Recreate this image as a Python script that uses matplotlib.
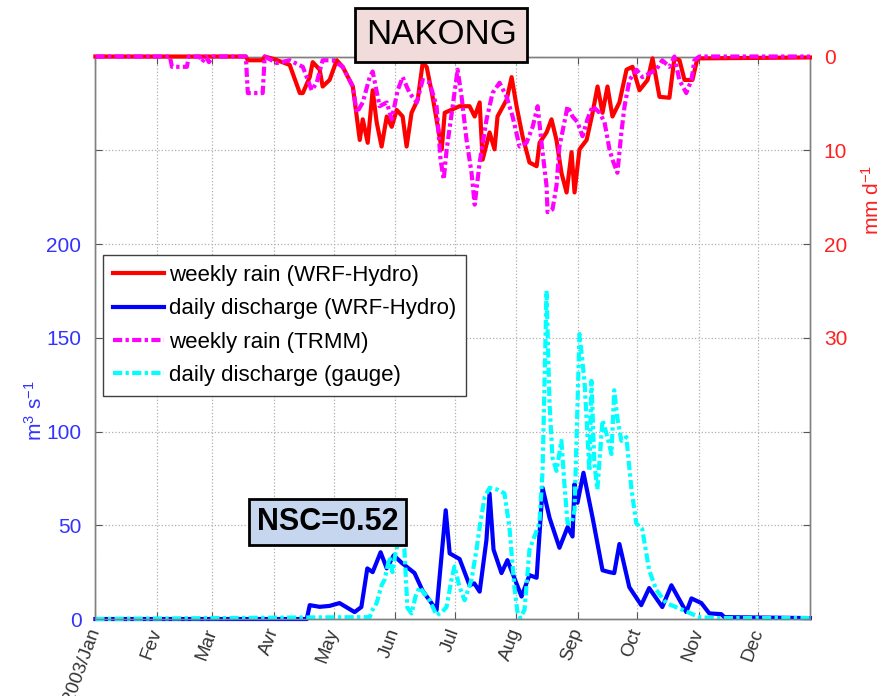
import matplotlib
matplotlib.use('Agg')
import matplotlib.pyplot as plt

plt.rcParams['font.family'] = ['Liberation Sans', 'DejaVu Sans']
plt.rcParams['mathtext.default'] = 'regular'

# days since 2003-01-01
month_days = [0, 31, 59, 90, 120, 151, 181, 212, 243, 273, 304, 334]
month_labels = ['2003/Jan', 'Fev', 'Mar', 'Avr', 'May', 'Jun', 'Jul', 'Aug',
                'Sep', 'Oct', 'Nov', 'Dec']

# daily discharge WRF-Hydro (m3/s)
q_wrf_day = [0, 106.5, 108, 113, 118, 123, 130.6, 134, 137, 139.7, 143.7, 146.8,
             150.3, 154.3, 160.8, 164.9, 171.9, 176.5, 178.5, 183.5, 188.5, 190.9,
             193.6, 197, 198.6, 200.6, 204.6, 207.6, 214.7, 218.7, 222.3, 225.3,
             228.8, 233.8, 237.9, 240.4, 241.4, 242.9, 245.9, 250.5, 255.5, 259,
             261.4, 264, 269, 275, 279, 285.6, 290.2, 297.7, 300.3, 305.3, 309.3,
             315.3, 316.9, 360]
q_wrf = [0, 0, 7.4, 6.5, 7, 8.5, 3.7, 6.4, 27, 25, 35.6, 27,
         34, 30, 24.5, 15, 4.8, 58, 35, 32, 18, 19,
         14.6, 42, 67, 37, 24.5, 31.4, 12, 23.4, 22, 70,
         54, 38, 49, 44, 72, 62, 78, 54, 26, 25,
         24.5, 40, 17, 7.4, 16.5, 6.4, 18, 3.7, 11, 8.5, 3,
         2.6, 1, 0.5]

# daily discharge gauge (m3/s)
q_obs_day = [0, 100, 138.2, 139.7, 141.7, 144.2, 145.7, 148.2, 149.7, 151.2, 153.2,
             155.7, 157.2, 159.3, 161.3, 163.3, 168.4, 171.9, 174.9, 176.9, 179.4,
             180.9, 183.5, 186, 189.5, 192, 193.6, 196.1, 198.6, 202.6, 206.1,
             208.6, 211.1, 212.6, 214.1, 216.2, 218.7, 221.2, 223.7, 225.3, 227.3,
             228.8, 230.3, 232.3, 234.8, 236.3, 237.9, 239.9, 241.4, 243.9, 246.4,
             248.9, 249.9, 251.4, 252.9, 255.5, 258, 260, 261.4, 263, 265, 267.5,
             270, 272.5, 275.5, 279, 282.6, 287.6, 295.6, 304.2, 312.7, 360]
q_obs = [0, 0.8, 1, 5, 8.5, 18, 21, 33, 25, 35, 44,
         37, 6, 3, 12, 17, 10, 2, 4, 6.4, 21,
         28, 17, 10, 21, 37, 49, 65, 70, 69, 67,
         49, 17, 4, 0.5, 5, 37, 44, 51, 79, 175,
         115, 86, 79, 95, 72, 51, 51, 58, 152, 127,
         79, 127, 83, 69, 106, 97, 88, 122, 107, 95, 97,
         70, 51, 48, 26, 15.5, 8.5, 5, 1, 0.5, 0.5]

# weekly rain WRF-Hydro (mm/d)
r_wrf_day = [0, 75.8, 76.8, 84.3, 85.3, 90.4, 97.9, 103, 104.5, 108, 109.5, 113,
             114.5, 118, 121.6, 124.6, 129.7, 133.2, 134.7, 137.2, 139.7, 141.7,
             144.2, 146.8, 149.3, 151.8, 154.8, 156.8, 159.3, 162.4, 164.9, 166.9,
             169.9, 174.5, 176, 183.5, 188.5, 191.1, 193.6, 195.1, 198.6, 201.1,
             202.6, 207.2, 209.7, 212.2, 215.2, 218.7, 222.3, 223.8, 227.3, 229.8,
             232.3, 234.8, 237.4, 239.9, 241.4, 243.9, 247.5, 250.5, 253, 255.5,
             258, 260.5, 264, 267.6, 270.6, 274.1, 278.2, 280.7, 284.2, 289.2,
             291.7, 294.3, 296.8, 300.8, 303.3, 360]
r_wrf = [0, 0, 0.4, 0.4, 0, 0.3, 0.9, 3.9, 3.9, 2.2, 0.6, 1.4,
         3.2, 2.5, 0.4, 1.1, 3.2, 8.9, 6.7, 9.2, 3.6, 7,
         9.6, 6.4, 7.5, 5.7, 6.4, 9.6, 6, 4.6, 0.7, 1.1,
         4.3, 9.9, 6, 5.3, 5.3, 6.4, 4.9, 11, 8.1, 9.9,
         6.4, 4.6, 2.2, 5.3, 8.5, 11.3, 11.7, 9.2, 8.1, 6.7,
         8.9, 12.4, 14.5, 10.2, 14.5, 9.9, 8.9, 6, 3.2, 6,
         3.2, 6.4, 4.9, 1.4, 1.1, 3.6, 2.5, 0.2, 4.3, 4.4,
         0.2, 0.4, 2.5, 2.5, 0.2, 0.1]

# weekly rain TRMM (mm/d)
r_trmm_day = [0, 37.5, 38.6, 46.1, 47.1, 52.6, 53.7, 55.7, 57.2, 59.2, 75.8, 76.8,
              84.3, 85.3, 91.4, 97.9, 104.5, 109, 111.5, 114.5, 119.5, 124.6, 129.7,
              131.7, 134.7, 138.2, 139.7, 143.2, 146.8, 149.3, 152.3, 154.8, 158.3,
              161.9, 164.9, 168.4, 171.9, 173.9, 175.5, 177, 180, 182.5, 184.5, 187,
              189.5, 191.1, 193.6, 197.1, 200.1, 203.6, 207.2, 210.2, 213.7, 217.2,
              220.3, 222.8, 225.3, 227.3, 227.8, 230.3, 232.3, 233.8, 236.3, 237.9,
              240.4, 242.9, 245.4, 247.9, 250.5, 254, 256.5, 259, 260.5, 263, 265,
              266.6, 269.1, 272.6, 275.6, 279.1, 282.6, 285.6, 289.2, 291.7, 294.2,
              297.7, 300.3, 301.8, 304.3, 360]
r_trmm = [0, 0, 1.1, 1.1, 0, 0, 0.6, 0, 0.6, 0, 0, 3.9,
          3.9, 0, 0.7, 0.4, 1.1, 3.6, 2.8, 0.4, 0.4, 1.1, 3.2,
          6, 4.9, 2.2, 1.6, 5.3, 4.9, 6.7, 3.6, 2.2, 3.9,
          4.9, 2.5, 2.8, 5.3, 11, 13.1, 9.9, 5.3, 1.4, 4.3, 8.9,
          12.4, 15.8, 11.3, 6.7, 3.9, 2.8, 4.3, 6.4, 9.6, 9.2,
          7.5, 5.3, 10.2, 13.8, 16.6, 16.3, 13.8, 9.6, 7, 5.3,
          6.4, 7, 8.5, 6.7, 5.3, 6, 7, 9.9, 11, 12.4, 8.1,
          5.3, 2.5, 1.4, 2.2, 1.8, 1.4, 0.4, 1.1, 0, 2.5,
          3.9, 2.5, 0.4, 0, 0]

dashdot = (0, (2.2, 0.8, 0.8, 0.8))
pos = [0.1074, 0.1106, 0.8047, 0.8082]

fig, ax = plt.subplots(figsize=(8.88, 6.96), dpi=100)
ax2 = ax.twinx()
ax.set_position(pos)
ax2.set_position(pos)

l_wrf, = ax.plot(q_wrf_day, q_wrf, color='#0000ff', lw=3, clip_on=False,
                 zorder=3, label='daily discharge (WRF-Hydro)')
l_obs, = ax.plot(q_obs_day, q_obs, color='#00ffff', lw=3, linestyle=dashdot,
                 clip_on=False, zorder=4, label='daily discharge (gauge)')
r1, = ax2.plot(r_wrf_day, r_wrf, color='#ff0000', lw=3, clip_on=False,
               zorder=3, label='weekly rain (WRF-Hydro)')
r2, = ax2.plot(r_trmm_day, r_trmm, color='#ff00ff', lw=3, linestyle=dashdot,
               clip_on=False, zorder=4, label='weekly rain (TRMM)')

ax.set_xlim(0, 360)
ax.set_ylim(0, 300)
ax2.set_ylim(60, 0)

ax.set_xticks(month_days)
ax.set_xticklabels(month_labels, rotation=70, ha='right', va='center',
                   rotation_mode='anchor', fontsize=13.5, color='#333333')
ax.set_yticks([0, 50, 100, 150, 200, 250, 300])
ax.set_yticklabels(['0', '50', '100', '150', '200', '', ''], fontsize=15,
                   color='#3333ff')
ax2.set_yticks([0, 10, 20, 30, 40, 50, 60])
ax2.set_yticklabels(['0', '10', '20', '30', '', '', ''], fontsize=15,
                    color='#ff2020')

ax.tick_params(axis='x', direction='in', top=True, length=5, pad=7,
               color='#555555')
ax.tick_params(axis='y', direction='in', length=5, pad=10, color='#555555')
ax2.tick_params(axis='y', direction='in', length=5, pad=10, color='#555555')

ax.grid(True, linestyle=':', color='#b0b0b0', lw=0.9)
for a in (ax, ax2):
    for s in a.spines.values():
        s.set_color('#808080')
        s.set_linewidth(1)

ax.set_ylabel('m$^3$ s$^{-1}$', fontsize=15, color='#3333ff')
ax.yaxis.set_label_coords(-0.07, 0.37)
ax2.set_ylabel('mm d$^{-1}$', fontsize=15, color='#ff2020')
ax2.yaxis.set_label_coords(1.072, 0.745)

leg = ax2.legend(handles=[r1, l_wrf, r2, l_obs], loc='upper left',
                 bbox_to_anchor=(0.0106, 0.647), borderaxespad=0, fontsize=16,
                 handlelength=2.3, handletextpad=0.22, labelspacing=0.55,
                 borderpad=0.45, fancybox=False, framealpha=1)
leg.get_frame().set_edgecolor('#404040')
leg.get_frame().set_linewidth(1)
leg.set_zorder(10)

fig.text(0.497, 0.95, 'NAKONG', fontsize=25, ha='center', va='center',
         zorder=20, bbox=dict(boxstyle='square,pad=0.3', fc='#f2dcdb',
                              ec='black', lw=2))
fig.text(0.369, 0.25, 'NSC=0.52', fontsize=22, fontweight='bold',
         ha='center', va='center', zorder=20,
         bbox=dict(boxstyle='square,pad=0.25', fc='#c6d6ee', ec='black', lw=2))

fig.savefig('out.png', dpi=100)
